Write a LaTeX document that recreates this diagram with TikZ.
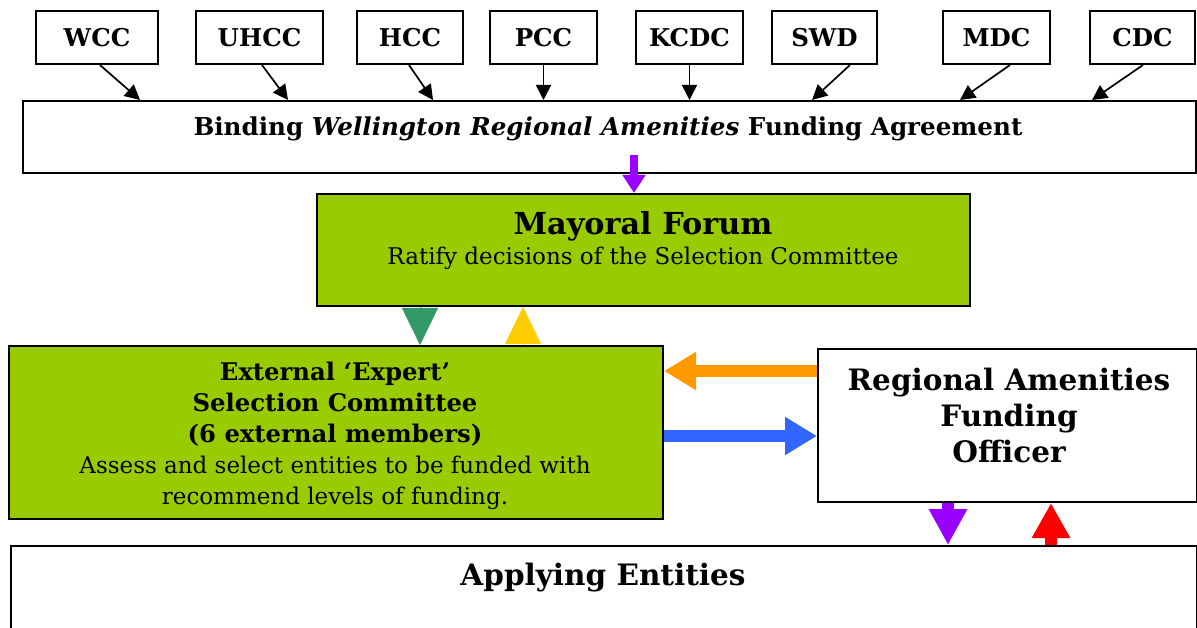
\documentclass[tikz,border=0pt]{standalone}
\usepackage{fontspec}
\setmainfont{DejaVu Serif}
\usetikzlibrary{arrows.meta}
\definecolor{forumgreen}{HTML}{99CC00}
\definecolor{downgreen}{HTML}{339966}
\definecolor{upyellow}{HTML}{FFCC00}
\definecolor{backorange}{HTML}{FF9900}
\definecolor{sendblue}{HTML}{3366FF}
\definecolor{notifypurple}{HTML}{9900FF}
\definecolor{applyred}{HTML}{FF0000}
\newcommand{\fs}[2]{\fontsize{#1}{#2}\selectfont}
\begin{document}
\begin{tikzpicture}[x=1pt,y=-1pt,
  box/.style={draw=black, line width=2pt, inner sep=0pt, anchor=north west},
  council/.style={box, minimum height=53pt, font=\fs{24.5}{28}\bfseries},
  feed/.style={line width=1.7pt, -{Triangle[length=15pt,width=15pt]}},
  flow/.style={line width=12pt, -{Triangle[length=32pt,width=36pt]}},
  wedge/.style={line width=0.1pt, -{Triangle[length=37pt,width=36pt]}},
]
\useasboundingbox (0,0) rectangle (1197,628);

% councils signing the agreement
\node[council, minimum width=122pt] (wcc)  at (35,10)   {WCC};
\node[council, minimum width=127pt] (uhcc) at (195,10)  {UHCC};
\node[council, minimum width=106pt] (hcc)  at (356,10)  {HCC};
\node[council, minimum width=107pt] (pcc)  at (489,10)  {PCC};
\node[council, minimum width=107pt] (kcdc) at (635,10)  {KCDC};
\node[council, minimum width=105pt] (swd)  at (771,10)  {SWD};
\node[council, minimum width=107pt] (mdc)  at (942,10)  {MDC};
\node[council, minimum width=105pt] (cdc)  at (1089,10) {CDC};

% funding agreement
\node[box, minimum width=1173pt, minimum height=72pt] (bind) at (22,100) {};
\node[font=\fs{24.6}{28}\bfseries] (bindtxt) at (608,129)
  {Binding \textit{Wellington Regional Amenities} Funding Agreement};

\draw[feed] (100,0 |- wcc.south)  -- (140,0 |- bind.north);
\draw[feed] (262,0 |- uhcc.south) -- (288,0 |- bind.north);
\draw[feed] (409,0 |- hcc.south)  -- (433,0 |- bind.north);
\draw[feed] (pcc.south)           -- (pcc.south |- bind.north);
\draw[feed] (kcdc.south)          -- (kcdc.south |- bind.north);
\draw[feed] (850,0 |- swd.south)  -- (812,0 |- bind.north);
\draw[feed] (1010,0 |- mdc.south) -- (960,0 |- bind.north);
\draw[feed] (1143,0 |- cdc.south) -- (1092,0 |- bind.north);

% mayoral forum
\node[box, fill=forumgreen, minimum width=653pt, minimum height=112pt] (mf) at (316,193) {};
\node[font=\fs{30.3}{34}\bfseries] (mftitle) at (643,226) {Mayoral Forum};
\node[font=\fs{23}{26}] (mfsub) at (643,258) {Ratify decisions of the Selection Committee};

\coordinate (bindout) at (634,155);
\draw[notifypurple, line width=8pt, -{Triangle[length=18pt,width=22pt]}]
  (bindout) -- (634,0 |- mf.north);

% selection committee
\node[box, fill=forumgreen, minimum width=654pt, minimum height=173pt] (sc) at (8,345) {};
\node[align=center, font=\fs{23}{31}] (sctxt) at (335,435.5)
  {{\fs{24.3}{31}\bfseries External ‘Expert’}\\
   {\fs{24.3}{31}\bfseries Selection Committee}\\
   {\fs{24.3}{31}\bfseries (6 external members)}\\
   Assess and select entities to be funded with\\
   recommend levels of funding.};

\draw[wedge, downgreen] (420,0 |- mf.south) -- (420,0 |- sc.north);
\draw[wedge, upyellow]  (523,0 |- sc.north) -- (523,0 |- mf.south);

% funding officer
\node[box, minimum width=379pt, minimum height=153pt] (rafo) at (817,348) {};
\node[align=center, font=\fs{29.5}{36}\bfseries] (rafotxt) at (1009,415.5)
  {Regional Amenities\\Funding\\Officer};

\draw[flow, backorange] (rafo.west |- 0,371) -- (sc.east |- 0,371);
\draw[flow, sendblue]   (sc.east |- 0,436)   -- (rafo.west |- 0,436);

% applicants
\node[box, minimum width=1186pt, minimum height=120pt] (apply) at (10,545) {};
\node[font=\fs{29.5}{34}\bfseries] (applytxt) at (603,578) {Applying Entities};

\draw[notifypurple, line width=12pt, -{Triangle[length=36pt,width=36pt]}]
  (948,0 |- rafo.south) -- (948,0 |- apply.north);
\draw[applyred, line width=12pt, -{Triangle[length=35pt,width=36pt]}]
  (1051,0 |- apply.north) -- (1051,0 |- rafo.south);
\end{tikzpicture}
\end{document}
